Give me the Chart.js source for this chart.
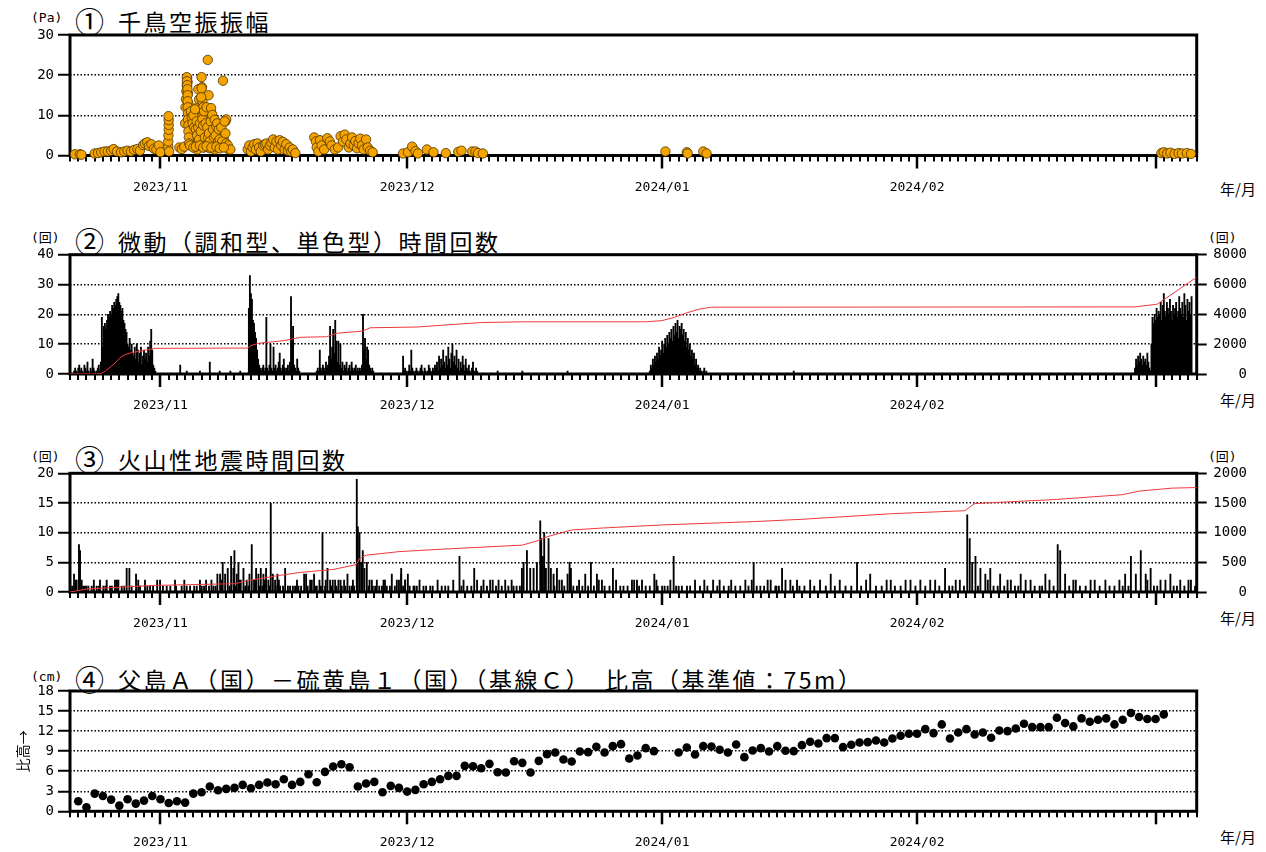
<!DOCTYPE html>
<html>
<head>
<meta charset="utf-8">
<script src="https://cdn.jsdelivr.net/npm/chart.js@4.4.1/dist/chart.umd.min.js"></script>
<style>
  body { margin: 0; background: #fff; width: 1266px; height: 852px; position: relative; overflow: hidden; }
  canvas { position: absolute; left: 0; display: block; }
  .ttl { position: absolute; font-family: "Noto Sans CJK JP", sans-serif; font-size: 23px; line-height: 23px; letter-spacing: 2.5px; color: #000; white-space: nowrap; }
  .num { position: absolute; font-family: "Noto Sans CJK JP", sans-serif; font-size: 29px; line-height: 29px; color: #000; }
  .unit { position: absolute; font-family: "DejaVu Sans Mono", "Noto Sans CJK JP", monospace; font-size: 13px; line-height: 14px; color: #000; white-space: nowrap; }
  .ym { position: absolute; left: 1220px; font-family: "Noto Sans CJK JP", sans-serif; font-size: 15px; line-height: 16px; color: #000; }
</style>
</head>
<body>
<div class="unit" style="left:31px;top:11px">(Pa)</div>
<div class="num" style="left:75px;top:6px">①</div>
<div class="ttl" style="left:118px;top:10px">千鳥空振振幅</div>

<div class="unit" style="left:31px;top:231px">(回)</div>
<div class="num" style="left:75px;top:226px">②</div>
<div class="ttl" style="left:118px;top:230px">微動（調和型、単色型）時間回数</div>
<div class="unit" style="left:1208px;top:231px">(回)</div>

<div class="unit" style="left:31px;top:450px">(回)</div>
<div class="num" style="left:75px;top:444px">③</div>
<div class="ttl" style="left:118px;top:448px">火山性地震時間回数</div>
<div class="unit" style="left:1208px;top:450px">(回)</div>

<div class="unit" style="left:31px;top:670px">(cm)</div>
<div class="num" style="left:75px;top:664px">④</div>
<div class="ttl" style="left:118px;top:668px">父島Ａ（国）－硫黄島１（国）（基線Ｃ）　比高（基準値：75m）</div>

<div class="ym" style="top:181px">年/月</div>
<div class="ym" style="top:392px">年/月</div>
<div class="ym" style="top:610px">年/月</div>
<div class="ym" style="top:829px">年/月</div>

<canvas id="c1" width="1266" height="212" style="top:0px"></canvas>
<canvas id="c2" width="1266" height="212" style="top:218px"></canvas>
<canvas id="c3" width="1266" height="212" style="top:436px"></canvas>
<canvas id="c4" width="1266" height="198" style="top:654px"></canvas>

<script>
// ---- time axis: days counted from 2023-10-21 00:00 ----
const ORIGIN = Date.UTC(2023, 9, 21);
const X_MAX = 137;                       // 2024-03-06
const dayOf = s => (Date.parse(s + 'T00:00:00Z') - ORIGIN) / 86400000;
const monthStarts = ['2023-11-01', '2023-12-01', '2024-01-01', '2024-02-01', '2024-03-01'];
const monthLabels = ['2023/11', '2023/12', '2024/01', '2024/02', ''];
const monthDays = monthStarts.map(dayOf);

// ---- ① infrasound amplitude (Pa): event day offset / amplitude ----
const infraDay = [
  0.6,1.2,1.4,3.0,3.4,3.8,4.2,4.6,5.0,5.3,5.7,6.2,6.6,7.0,7.4,7.8,8.2,8.5,8.9,9.1,9.4,9.6,9.9,10.2,10.5,10.8,11.0,
  11.95,11.95,11.97,12.0,12.0,12.0,11.98,12.05,
  13.3,13.6,13.9,14.0,14.05,14.1,14.15,14.2,14.25,14.3,14.35,14.4,14.45,14.5,14.6,14.7,14.8,14.9,15.0,15.1,15.2,15.3,15.4,15.5,
  15.6,15.7,15.8,15.9,16.0,16.05,16.1,16.2,16.3,16.4,16.5,16.6,16.75,16.85,16.9,17.0,17.1,17.2,17.3,17.4,17.5,17.6,17.7,17.8,
  17.9,18.0,18.1,18.2,18.3,18.4,18.5,18.6,18.7,18.8,18.9,19.0,19.1,19.3,15.05,15.5,16.3,17.0,17.6,
  14.2,14.22,14.25,14.28,14.3,14.3,14.32,14.35,14.35,14.4,14.4,14.45,14.5,
  14.7,14.8,14.9,15.0,15.1,15.2,15.3,15.4,15.45,15.6,15.7,15.8,15.9,
  16.0,15.95,16.1,16.2,16.3,16.4,16.5,16.6,16.7,16.8,16.9,17.0,17.1,17.15,17.3,17.4,17.5,17.6,17.7,17.8,17.9,18.0,18.1,18.2,18.3,18.4,18.5,18.8,18.9,19.0,19.2,19.5,
  14.6,15.0,15.3,15.8,16.2,16.6,17.2,17.8,18.2,18.7,
  21.6,21.8,22.0,22.2,22.4,22.6,22.8,23.0,23.2,23.5,23.7,23.9,24.1,24.3,24.5,24.7,24.9,25.1,25.3,25.5,25.7,25.9,26.1,26.3,26.5,26.7,26.9,27.1,27.4,
  29.7,29.9,30.0,30.2,30.4,30.6,30.9,31.3,31.6,31.8,32.2,32.6,32.9,33.2,33.4,33.6,33.9,34.1,34.3,34.5,34.7,34.9,35.1,35.3,35.5,35.7,36.0,36.2,36.5,36.8,
  40.5,41.1,41.6,42.0,42.3,43.4,44.2,45.7,47.2,47.6,48.9,49.3,49.6,50.2,
  72.4,75.0,75.1,77.0,77.4,
  132.7,133.0,133.4,133.8,134.3,134.8,135.2,135.8,136.3
];
const infraPa = [
  0.3,0.3,0.2,0.5,0.6,0.8,1.0,1.0,1.2,1.6,1.0,0.8,1.0,1.2,1.0,1.4,1.6,1.2,2.6,3.0,3.3,2.4,2.8,1.7,1.5,2.5,0.8,
  2.2,3.5,5.0,6.4,7.6,8.8,9.8,1.0,
  2.0,1.6,2.2,8,12,14,16,17.5,19.3,18.3,15.5,13,10.5,9,7,5.5,4,3,6,8,4.5,9,3,12,
  16.5,14,10.5,11.5,19.5,17,13.5,12,9,6,10,5,23.8,15,8.5,11.5,6,10.5,7.5,4,9,6,3,5.5,
  2.5,7.5,4.5,3.5,6,5,2.5,18.6,4,3,8.5,9,2,1.5,2,1.5,2,1.8,1.5,
  19.5,18.5,17.5,16.5,15,13.5,12,10.5,9,7.5,6,4.5,3,
  11,9.5,8,10,7,11.5,6.5,8.5,5,7,4,8,6,
  16.7,14.5,9,7.5,11,4.5,8,12,7,4.5,5.5,3.5,8.5,11.8,10.1,6.5,4.5,8.9,5,7.2,8,3.5,6.5,4,2.5,7,3.5,8.5,5.5,3,2.5,1.5,
  2.5,2,2.2,2.5,2,2.3,2,2.2,1.8,2.0,
  1.5,2.5,1,2,2.8,1.5,3,2,1,2.5,2.8,3.0,1.5,2.5,3.2,4,2,3.5,1.5,3.8,2.5,3.4,1.5,2.8,1.2,2,1,1.5,0.6,
  4.5,3.5,2,1,3.8,2.5,1.5,4.3,3.5,2.5,1.5,2,4.8,3.5,5.2,4,2,3,4.5,2.5,3.6,1.8,3,4.2,2.5,1.5,4,2,1.2,0.8,
  0.5,0.8,2.2,1.1,0.5,1.5,0.8,0.6,0.9,1.2,1.0,1.0,0.6,0.5,
  1.0,0.8,0.5,1.0,0.5,
  0.6,0.8,0.5,0.7,0.4,0.6,0.5,0.6,0.4
];

// ---- ② tremor hourly counts, 3-hour bins per burst ----
const STEP = 0.125;
const tremorOctStart = 0.5;
const tremorOct = [1,2,1,0,2,3,1,2,1,0,3,2,1,4,1,0,2,1,5,2,1,0,1,2,3,1,
  4,19,9,16,17,15,18,20,19,21,20,23,22,24,23,25,26,27,24,23,21,22,18,17,15,14,
  10,9,12,8,10,7,6,9,5,10,8,4,7,9,3,6,8,5,7,4,9,6,11,15,8,3,2,1];
const tremorNovAStart = 21.75;
const tremorNovA = [22,33,27,25,18,17,14,12,8,5,3,2,1,2,3,1,2,19,2,1,3,10,2,1,9,2,3,1,2,4,7,2,1,3,5,2,1,2,3,1,4,26,12,16,3,2,1,5,2,1];
const tremorNovBStart = 30.0;
const tremorNovB = [1,2,1,8,2,1,3,2,1,4,2,3,6,16,5,9,15,7,18,11,4,11,3,10,2,4,1,3,2,4,1,2,3,1,4,2,1,2,3,1,2,1,2,1,3,20,8,12,5,9,8,3,2,1,2,1];
const tremorDecStart = 40.5;
const tremorDec = [6,1,2,1,0,1,3,1,8,2,1,0,1,2,1,0,1,2,3,1,0,2,1,0,1,3,2,1,0,2,1,3,2,4,1,6,2,5,3,8,4,2,6,3,9,5,2,7,10,4,6,3,8,2,5,1,4,2,6,3,1,5,2,1,3,1,0,2,4,1,0,2,1];
const tremorJanStart = 70.5;
const tremorJan = [1,3,2,5,3,6,4,7,5,9,6,8,11,7,10,12,9,13,10,14,12,15,11,16,13,17,14,18,12,16,15,17,13,15,11,14,9,12,8,10,6,8,5,7,3,5,2,3,1,2,1,0,1,2,0,1];
const tremorMarStart = 129.5;
const tremorMar = [2,5,3,6,4,7,5,3,6,4,5,3,7,4,2,1,10,19,17,20,18,22,19,21,20,24,18,23,27,21,19,24,22,20,25,21,18,23,20,22,24,19,21,26,22,20,24,19,27,23,18,25,21,24,20,26];
const tremorSparseDay = [13.4,14.2,15.8,17.0,18.2,19.5,20.7,52.0,55.0,60.5,88.0];
const tremorSparseN = [3,1,1,4,1,1,1,1,1,1,1];
// cumulative tremor count (right axis)
const tremorCumDay = [0,3.65,4.3,5.0,5.6,6.1,6.7,7.3,8.3,9.7,10.2,21.6,22.0,22.9,26,28,31.2,32.4,35.6,36.5,42.2,46,50,55,70,72,73.5,75,76.5,78,129.5,132.2,137];
const tremorCum = [0,0,200,500,800,1100,1300,1400,1520,1650,1720,1740,1900,2060,2235,2460,2500,2730,2880,3100,3150,3300,3450,3500,3500,3580,3800,4100,4350,4480,4500,4680,6490];

// ---- ③ volcanic earthquake hourly counts ----
const quakeDay = [0.32,0.49,0.81,1.09,1.22,1.42,1.82,2.23,2.64,3.24,3.65,4.06,4.46,4.87,5.47,5.88,6.29,6.89,7.22,8.03,8.52,9.12,9.73,10.95,11.76,12.77,13.58,14.19,15.41,16.02,16.55,17.44,
  17.92,18.25,18.57,18.86,19.18,19.59,19.87,19.99,20.28,20.48,20.76,21.09,21.49,21.82,22.10,22.38,22.63,22.91,23.20,23.52,23.84,24.12,24.41,24.66,24.94,25.22,25.55,26.16,26.76,27.37,27.78,
  28.47,28.71,29.20,29.68,30.01,30.33,30.70,31.02,31.31,31.63,31.95,32.24,32.64,33.05,33.33,33.74,34.27,34.55,34.87,35.0,35.2,35.4,35.6,35.8,36.09,36.42,36.82,37.31,37.92,38.52,39.13,39.74,40.27,40.75,41.77,
  38.12,40.27,40.75,41.08,42.17,42.98,43.80,45.62,47.36,47.85,49.15,50.28,51.09,52.11,52.92,53.93,54.95,55.15,55.56,55.96,56.37,56.77,57.18,57.30,57.50,57.66,57.87,58.19,58.47,58.80,59.21,59.81,
  60.50,60.75,60.91,61.64,62.65,63.34,64.07,64.68,66.02,66.91,68.33,68.94,69.55,71.05,71.45,72.67,73.40,74.01,75.02,77.13,78.99,80.09,82.12,83.13,83.94,84.83,85.77,86.58,87.59,88.40,
  90.0,92.5,95.7,97.3,99.8,101.6,103.4,105.2,106.4,107.7,109.1,109.4,109.7,110.1,110.7,111.3,111.9,113.1,114.4,115.6,116.8,118.6,120.1,120.4,121.0,122.3,124.1,125.9,128.3,129.0,129.6,130.2,130.8,131.4,132.6,133.8,135.0,136.3];
const quakeN = [1,3,2,8,7,2,1,1,1,1,2,1,2,1,2,2,1,4,4,3,1,2,1,2,1,2,1,1,1,1,2,1,
  3,3,5,3,4,6,4,7,3,5,2,4,2,3,8,2,4,3,4,3,4,2,15,3,2,3,1,4,1,1,1,
  3,3,2,3,1,2,10,1,4,2,2,2,2,1,2,3,1,1,19,11,10,5,7,4,5,2,1,2,1,1,3,2,3,2,1,
  2,4,2,3,1,1,1,1,6,2,4,2,2,2,2,1,4,5,7,4,4,5,12,9,6,10,4,9,4,3,4,2,
  3,5,4,1,3,5,3,2,4,1,2,2,2,3,1,1,6,1,1,2,2,1,2,5,1,2,1,4,2,2,
  2,3,5,3,2,2,2,2,4,2,13,9,5,6,4,3,4,3,2,3,2,3,8,7,3,2,2,2,3,6,3,7,3,4,2,3,2,2];
// isolated one- and two-event hours between the active spells
const quakeBgDay = [
  0.1,0.7,1.6,2.0,2.9,3.5,4.3,5.1,5.7,6.6,7.5,8.3,9.4,10.1,10.6,11.3,12.2,12.9,13.9,14.6,15.1,15.8,16.3,16.9,17.2,17.7,
  18.4,19.4,20.1,20.6,21.3,21.7,22.5,23.0,23.4,23.7,24.3,25.0,25.4,25.9,26.5,27.1,27.6,28.1,28.9,29.4,29.9,30.5,31.1,31.8,32.4,32.9,33.5,34.0,34.4,
  36.3,36.7,37.1,37.6,38.3,38.9,39.5,40.0,40.5,41.3,41.9,42.5,43.3,44.1,44.7,45.2,46.0,46.6,47.6,48.3,48.8,49.5,50.0,50.7,51.4,51.8,52.5,53.3,53.7,54.3,54.7,
  58.9,59.5,60.1,61.2,61.9,62.3,63.0,63.7,64.3,65.0,65.6,66.4,67.3,67.8,68.6,69.2,70.0,70.5,71.3,72.0,72.3,73.0,73.7,74.4,75.4,76.0,76.6,77.5,78.2,78.7,79.5,80.4,80.9,81.5,82.5,82.9,83.5,84.4,85.2,85.9,86.2,87.0,87.9,88.7,
  89.3,90.5,91.2,91.9,93.0,93.6,94.3,95.0,96.2,96.8,98.0,98.7,99.3,100.3,101.0,102.2,102.8,104.0,104.6,105.7,106.9,107.3,108.2,108.7,110.4,111.6,112.3,112.8,113.6,114.0,114.9,115.3,116.2,117.3,117.9,118.2,119.1,119.6,121.5,122.0,122.8,123.5,124.6,125.2,126.4,127.0,127.6,128.0,128.7,131.0,131.8,132.2,133.2,134.2,134.6,135.5,136.0,136.8
];
const quakeBgN = [
  1,2,1,1,2,1,1,1,2,1,1,2,1,1,2,1,1,1,2,1,1,2,1,1,2,1,
  2,1,1,2,1,1,2,1,1,2,1,1,2,1,1,1,2,1,1,2,1,1,2,1,1,2,1,1,2,
  1,2,1,1,2,1,1,2,1,1,1,2,1,1,2,1,1,2,1,1,1,2,1,1,2,1,1,1,2,1,1,
  1,2,1,1,2,1,1,1,2,1,1,2,1,1,2,1,1,1,2,1,1,2,1,1,1,2,1,1,2,1,1,2,1,1,1,2,1,1,2,1,1,2,1,1,
  1,1,2,1,1,2,1,1,1,2,1,1,2,1,1,2,1,1,2,1,1,1,2,1,1,2,1,1,1,2,1,1,2,1,1,1,2,1,1,2,1,1,2,1,1,1,2,1,1,2,1,1,2,1,1,1,2,1
];
const quakeCumDay = [0,2,10,20,22,25,28,32,34.8,35.2,36,40,45,55,57,58,61,65,72,83,89,100,108.8,109.3,110,120,125,128,130,134,137];
const quakeCum = [0,50,110,140,200,270,330,380,460,560,620,680,720,790,870,930,1045,1080,1130,1185,1225,1320,1370,1420,1490,1560,1610,1640,1700,1750,1760];

// ---- ④ GNSS baseline height difference (cm), daily from 2023-10-22 ----
const gnssStart = '2023-10-22';
const gnssCm = [
  1.5,0.6,2.65,2.3,1.75,0.85,1.8,1.15,1.6,2.3,
  1.8,1.25,1.5,1.3,2.65,2.85,3.7,3.15,3.35,3.5,3.95,3.45,3.95,4.3,4.05,4.8,3.95,4.4,5.55,4.35,5.9,6.7,7.05,6.6,3.7,4.15,4.4,2.85,3.8,3.5,
  2.95,3.2,4.05,4.4,4.8,5.3,5.3,6.8,6.75,6.45,7.1,5.85,5.8,7.5,7.25,5.8,7.55,8.55,8.8,7.75,7.45,8.95,8.85,9.65,8.8,9.75,10.05,7.9,8.35,9.45,9.0,
  null,null,8.8,9.55,8.5,9.75,9.7,9.2,8.8,10.0,8.1,9.1,9.45,8.95,9.75,9.05,9.0,9.9,10.4,10.15,10.95,10.95,9.6,9.95,10.3,10.35,10.6,10.3,10.9,11.3,11.6,
  11.6,12.3,11.7,13.0,10.9,11.8,12.3,11.5,11.8,11.0,12.1,12.0,12.4,13.1,12.6,12.6,12.6,14.0,13.2,12.7,13.9,13.4,13.7,13.9,13.0,13.7,14.7,14.1,13.8,
  13.8,14.5
];

// ---------------------------------------------------------------
const segment = (start, vals) => vals.map((v, i) => ({ x: start + i * STEP, y: v }));
const pairs = (xs, ys) => xs.map((x, i) => ({ x, y: ys[i] }));

const TICK_FONT = { family: 'DejaVu Sans Mono', size: 14 };
const DATE_FONT = { family: 'DejaVu Sans Mono', size: 13 };

// frame and daily tick marks under the plot
const framePlugin = {
  id: 'frame',
  beforeDatasetsDraw(chart) {
    const { ctx, chartArea: a, scales: { x } } = chart;
    ctx.save();
    ctx.strokeStyle = '#000';
    for (let d = 0; d <= X_MAX; d++) {
      const px = Math.round(x.getPixelForValue(d));
      const major = monthDays.includes(d);
      ctx.lineWidth = major ? 2.5 : 2;
      ctx.beginPath();
      ctx.moveTo(px, a.bottom);
      ctx.lineTo(px, a.bottom + (major ? 13 : 6));
      ctx.stroke();
    }
    ctx.lineWidth = 3;
    ctx.strokeRect(a.left, a.top, a.right - a.left, a.bottom - a.top);
    ctx.restore();
  }
};

// vertical axis caption of the baseline panel
const sideLabelPlugin = {
  id: 'sideLabel',
  afterDraw(chart) {
    const { ctx, chartArea: a } = chart;
    ctx.save();
    ctx.translate(23, (a.top + a.bottom) / 2);
    ctx.rotate(-Math.PI / 2);
    ctx.font = '14px "Noto Sans CJK JP"';
    ctx.fillStyle = '#000';
    ctx.textAlign = 'center';
    ctx.textBaseline = 'middle';
    ctx.fillText('比高→', 0, 0);
    ctx.restore();
  }
};

function xAxis(height) {
  return {
    type: 'linear', min: 0, max: X_MAX, offset: false,
    grid: { display: false, drawTicks: false, offset: false },
    border: { display: false },
    afterBuildTicks: s => { s.ticks = monthDays.map(v => ({ value: v })); },
    afterFit: s => { s.height = height; },
    ticks: {
      autoSkip: false, maxRotation: 0, padding: 24, color: '#000', font: DATE_FONT,
      callback: (v, i) => monthLabels[i]
    }
  };
}

function yAxis(max, step) {
  return {
    type: 'linear', position: 'left', min: 0, max: max,
    afterFit: s => { s.width = 70; },
    grid: {
      color: c => (c.tick.value === 0 || c.tick.value === max) ? 'rgba(0,0,0,0)' : '#000',
      lineWidth: 1.5, tickColor: '#000', tickLength: 12, tickWidth: 2
    },
    border: { display: false, dash: [1.5, 2] },
    ticks: { stepSize: step, padding: 4, color: '#000', font: TICK_FONT, callback: v => String(v) }
  };
}

function rightAxis(max, step) {
  return {
    type: 'linear', position: 'right', min: 0, max: max,
    afterFit: s => { s.width = 50.3; },
    grid: { drawOnChartArea: false, tickColor: '#000', tickLength: 10, tickWidth: 2 },
    border: { display: false },
    ticks: { stepSize: step, crossAlign: 'far', color: '#000', font: TICK_FONT, callback: v => String(v) }
  };
}

const common = {
  responsive: false, animation: false, devicePixelRatio: 1,
  plugins: { legend: { display: false }, tooltip: { enabled: false } }
};

// ① infrasound
new Chart(document.getElementById('c1'), {
  type: 'scatter',
  data: { datasets: [{
    data: pairs(infraDay, infraPa),
    pointRadius: 4.7, backgroundColor: '#f5a300', borderColor: '#4a3200', borderWidth: 0.8, clip: false
  }] },
  options: Object.assign({}, common, {
    layout: { padding: { top: 35, right: 69.3, left: 0, bottom: 0 } },
    scales: { x: xAxis(56.5), y: yAxis(30, 10) }
  }),
  plugins: [framePlugin]
});

// ② tremor
const tremorBars = [].concat(
  segment(tremorOctStart, tremorOct), segment(tremorNovAStart, tremorNovA), segment(tremorNovBStart, tremorNovB),
  segment(tremorDecStart, tremorDec), segment(tremorJanStart, tremorJan), segment(tremorMarStart, tremorMar),
  pairs(tremorSparseDay, tremorSparseN));
new Chart(document.getElementById('c2'), {
  type: 'bar',
  data: { datasets: [
    { type: 'line', data: pairs(tremorCumDay, tremorCum), yAxisID: 'y1', borderColor: '#f0383c', borderWidth: 1, pointRadius: 0, tension: 0, order: 0 },
    { type: 'bar', data: tremorBars, yAxisID: 'y', backgroundColor: '#000', barThickness: 1.2, borderWidth: 0, order: 1 }
  ] },
  options: Object.assign({}, common, {
    layout: { padding: { top: 36.7, right: 19, left: 0, bottom: 0 } },
    scales: { x: xAxis(56), y: yAxis(40, 10), y1: rightAxis(8000, 2000) }
  }),
  plugins: [framePlugin]
});

// ③ volcanic earthquakes
const quakeBars = [].concat(pairs(quakeBgDay, quakeBgN), pairs(quakeDay, quakeN));
new Chart(document.getElementById('c3'), {
  type: 'bar',
  data: { datasets: [
    { type: 'line', data: pairs(quakeCumDay, quakeCum), yAxisID: 'y1', borderColor: '#f0383c', borderWidth: 1, pointRadius: 0, tension: 0, order: 0 },
    { type: 'bar', data: quakeBars, yAxisID: 'y', backgroundColor: '#000', barThickness: 1.2, borderWidth: 0, order: 1 }
  ] },
  options: Object.assign({}, common, {
    layout: { padding: { top: 37.3, right: 19, left: 0, bottom: 0 } },
    scales: { x: xAxis(56), y: yAxis(20, 5), y1: rightAxis(2000, 500) }
  }),
  plugins: [framePlugin]
});

// ④ GNSS
const g0 = dayOf(gnssStart);
new Chart(document.getElementById('c4'), {
  type: 'scatter',
  data: { datasets: [{
    data: gnssCm.map((v, i) => ({ x: g0 + i, y: v })),
    pointRadius: 4.3, backgroundColor: '#000', borderColor: '#000', borderWidth: 0, clip: false
  }] },
  options: Object.assign({}, common, {
    layout: { padding: { top: 37, right: 69.3, left: 0, bottom: 0 } },
    scales: { x: xAxis(40.7), y: yAxis(18, 3) }
  }),
  plugins: [framePlugin, sideLabelPlugin]
});
</script>
</body>
</html>
